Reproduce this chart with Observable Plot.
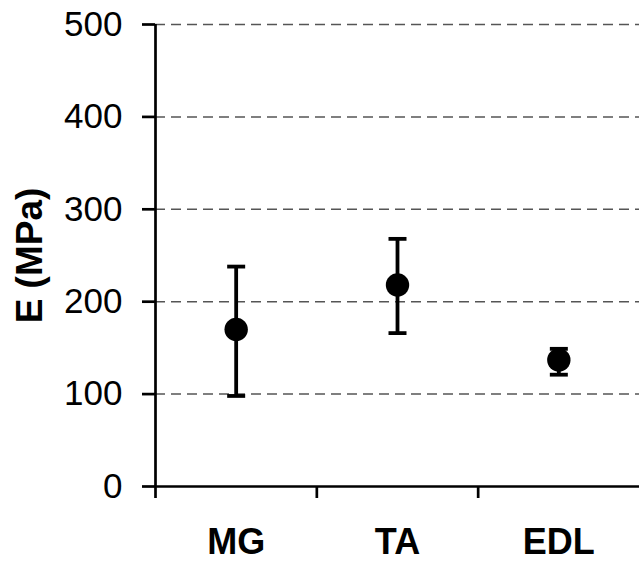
<!DOCTYPE html>
<html>
<head>
<meta charset="utf-8">
<script src="https://cdn.jsdelivr.net/npm/d3@7"></script>
<script src="https://cdn.jsdelivr.net/npm/@observablehq/plot@0.6"></script>
<style>
  html, body { margin: 0; padding: 0; background: #fff; }
  #chart svg { display: block; overflow: visible; }
</style>
</head>
<body>
<div id="chart"></div>
<script>
const categories = ["MG", "TA", "EDL"];
const means = [170, 218, 137];
const lower = [98, 166, 121];
const upper = [238, 268, 149];
const yTicks = [0, 100, 200, 300, 400, 500];
const yLabel = "E (MPa)";

const data = categories.map((c, i) => ({
  cat: c, pos: i + 0.5, mean: means[i], lo: lower[i], hi: upper[i]
}));

const capSymbol = {
  draw(context, size) {
    const w = Math.sqrt(size / Math.PI);
    context.moveTo(-w, 0);
    context.lineTo(w, 0);
  }
};

const font = "'Liberation Sans', Arial, Helvetica, sans-serif";

const chart = Plot.plot({
  width: 639,
  height: 564,
  marginLeft: 155,
  marginRight: 0,
  marginTop: 24,
  marginBottom: 78,
  style: { fontFamily: font, color: "#000", background: "#fff", overflow: "visible" },
  x: { type: "linear", domain: [0, categories.length] },
  y: { domain: [0, 500] },
  marks: [
    Plot.ruleY(yTicks.filter(d => d > 0), { stroke: "#555", strokeWidth: 1.5, strokeDasharray: "10,6" }),
    Plot.axisY({ ticks: yTicks, tickSize: 13, tickPadding: 20, fontSize: 35, strokeWidth: 2.7, label: null, tickFormat: d => String(d) }),
    Plot.axisX({ ticks: d3.range(categories.length), tickSize: 12, strokeWidth: 2.7, tickFormat: () => "", label: null }),
    Plot.axisX({ ticks: data.map(d => d.pos), tickSize: 0, tickPadding: 42, fontSize: 36, fontWeight: "bold", tickFormat: (d) => categories[Math.floor(d)], label: null }),
    Plot.ruleX([0], { y1: 0, y2: 500, stroke: "#000", strokeWidth: 2.7 }),
    Plot.ruleY([0], { stroke: "#000", strokeWidth: 2.7 }),
    Plot.ruleX(data, { x: "pos", y1: "lo", y2: "hi", stroke: "#000", strokeWidth: 3.8 }),
    Plot.dot(data, { x: "pos", y: "hi", symbol: capSymbol, r: 9, stroke: "#000", strokeWidth: 3.8, fill: "none" }),
    Plot.dot(data, { x: "pos", y: "lo", symbol: capSymbol, r: 9, stroke: "#000", strokeWidth: 3.8, fill: "none" }),
    Plot.dot(data, { x: "pos", y: "mean", r: 11.7, fill: "#000", stroke: "none" }),
    Plot.text([yLabel], { frameAnchor: "left", textAnchor: "middle", dx: -125, rotate: -90, fontSize: 37, fontWeight: "bold", fill: "#000" })
  ]
});

document.getElementById("chart").appendChild(chart);
</script>
</body>
</html>
